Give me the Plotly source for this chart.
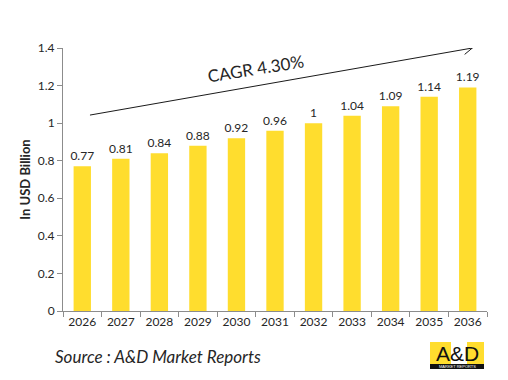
import plotly.graph_objects as go

years = ["2026", "2027", "2028", "2029", "2030", "2031", "2032", "2033", "2034", "2035", "2036"]
values = [0.77, 0.81, 0.84, 0.88, 0.92, 0.96, 1.0, 1.04, 1.09, 1.14, 1.19]
labels = ["0.77", "0.81", "0.84", "0.88", "0.92", "0.96", "1", "1.04", "1.09", "1.14", "1.19"]
y_ticks = [0, 0.2, 0.4, 0.6, 0.8, 1.0, 1.2, 1.4]
y_ticktext = ["0", "0.2", "0.4", "0.6", "0.8", "1", "1.2", "1.4"]

FONT = "Lato, Open Sans, sans-serif"
TXT = "#262626"
AX = "#8c8c8c"
BAR = "#FFDD2E"

# page body has an 8px default margin, so the figure is drawn 8px smaller
W, H = 500, 372
L, R, T, B = 55, 21, 40, 69
PW, PH = W - L - R, H - T - B


def px(xp, yp):
    """reference-picture pixel -> paper coords"""
    return (xp - 8 - L) / PW, (H - B - (yp - 8)) / PH


fig = go.Figure()
fig.add_trace(go.Bar(
    x=years, y=values, text=labels, textposition="outside", constraintext="none",
    textfont=dict(family=FONT, size=12, color=TXT),
    marker=dict(color=BAR, line=dict(width=0)),
    width=0.45, cliponaxis=False,
))

fig.update_layout(
    width=W, height=H,
    margin=dict(l=L, r=R, t=T, b=B),
    paper_bgcolor="white", plot_bgcolor="white",
    showlegend=False,
    font=dict(family=FONT, color=TXT),
    xaxis=dict(
        type="category", showline=True, linecolor=AX, linewidth=1,
        ticks="outside", tickson="boundaries", ticklen=5, tickcolor=AX,
        tickfont=dict(family=FONT, size=12, color=TXT), showgrid=False,
    ),
    yaxis=dict(
        range=[0, 1.4], tickvals=y_ticks, ticktext=y_ticktext,
        showline=True, linecolor=AX, linewidth=1,
        ticks="outside", ticklen=5, tickcolor=AX, showgrid=False, zeroline=False,
        tickfont=dict(family=FONT, size=12, color=TXT),
        title=dict(text="<b>In USD Billion</b>", font=dict(family=FONT, size=13, color=TXT), standoff=4),
    ),
)

# CAGR arrow: line + open chevron head
fig.add_shape(type="line", xref="x", yref="y", x0=0.2, y0=1.043, x1=10.12, y1=1.4,
              line=dict(color="#1a1a1a", width=1))
fig.add_shape(type="path", xref="x", yref="y", xsizemode="pixel", ysizemode="pixel",
              xanchor=10.12, yanchor=1.4, path="M -9.4,3.4 L 0,0 L -7.7,-6.4",
              line=dict(color="#1a1a1a", width=1))

cx, cy = px(255, 68)
fig.add_annotation(x=cx, y=cy, xref="paper", yref="paper", xanchor="center", yanchor="middle",
                   text="CAGR 4.30%", showarrow=False,
                   font=dict(family=FONT, size=17, color=TXT), textangle=-9)

# Source
sx, sy = px(53, 356)
fig.add_annotation(x=sx, y=sy, xref="paper", yref="paper", xanchor="left", yanchor="middle",
                   text="<i>Source : A&D Market Reports</i>", showarrow=False,
                   font=dict(family=FONT, size=17, color=TXT))

# Logo
x0, y0 = px(430, 342)
x1, y1 = px(484, 364)
fig.add_shape(type="rect", xref="paper", yref="paper", x0=x0, y0=y0, x1=x1, y1=y1,
              fillcolor="#FFDD2E", line=dict(width=0), layer="above")
x0, y0 = px(451, 342)
x1, y1 = px(467, 364)
fig.add_shape(type="rect", xref="paper", yref="paper", x0=x0, y0=y0, x1=x1, y1=y1,
              fillcolor="white", line=dict(width=0), layer="above")
x0, y0 = px(430, 364)
x1, y1 = px(484, 369)
fig.add_shape(type="rect", xref="paper", yref="paper", x0=x0, y0=y0, x1=x1, y1=y1,
              fillcolor="#111111", line=dict(width=0), layer="above")
lx, ly = px(457, 353)
fig.add_annotation(xref="paper", yref="paper", x=lx, y=ly, xanchor="center", yanchor="middle",
                   text="A&amp;D", showarrow=False,
                   font=dict(family="Liberation Sans, Arial, sans-serif", size=21, color="#111111"))
lx, ly = px(457, 366.5)
fig.add_annotation(xref="paper", yref="paper", x=lx, y=ly, xanchor="center", yanchor="middle",
                   text="MARKET REPORTS", showarrow=False,
                   font=dict(family="Liberation Sans, Arial, sans-serif", size=4, color="white"))

fig.write_html("out.html")
